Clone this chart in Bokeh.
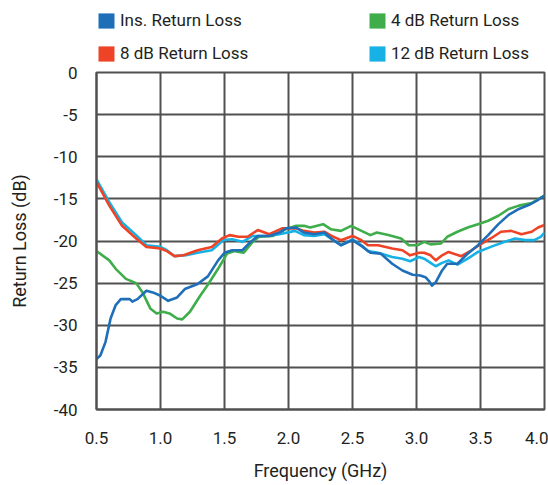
from bokeh.plotting import figure
from bokeh.layouts import column
from bokeh.models import Range1d, FixedTicker, PrintfTickFormatter, Legend, LegendItem
from bokeh.embed import file_html
from bokeh.resources import INLINE

# ---- data ----
ins_f = [0.50,0.53,0.57,0.61,0.65,0.69,0.76,0.78,0.82,0.89,0.94,1.00,1.06,1.13,1.19,1.29,1.37,1.45,1.50,1.56,
         1.64,1.69,1.76,1.85,1.93,1.98,2.06,2.12,2.20,2.28,2.35,2.41,2.50,2.58,2.64,2.72,2.81,2.89,2.97,3.03,
         3.07,3.10,3.12,3.15,3.20,3.24,3.32,3.40,3.48,3.56,3.64,3.72,3.80,3.88,3.94,4.00]
ins_db = [-34.0,-33.6,-32.0,-29.2,-27.6,-26.9,-26.9,-27.2,-26.9,-25.9,-26.1,-26.5,-27.1,-26.7,-25.7,-25.1,-24.2,-22.3,-21.4,-21.1,
          -21.1,-20.3,-19.4,-19.4,-19.0,-18.5,-18.4,-19.0,-19.2,-19.0,-19.9,-20.5,-19.9,-20.7,-21.4,-21.5,-22.7,-23.5,-24.0,-24.1,
          -24.3,-24.8,-25.3,-24.9,-23.5,-22.7,-22.7,-21.5,-20.5,-19.3,-18.0,-16.9,-16.2,-15.7,-15.2,-14.6]

rl4_f = [0.50,0.60,0.65,0.73,0.81,0.86,0.92,0.97,1.02,1.07,1.13,1.17,1.23,1.31,1.37,1.45,1.52,1.58,1.65,1.72,
         1.77,1.88,1.98,2.06,2.12,2.17,2.27,2.33,2.41,2.49,2.57,2.64,2.69,2.78,2.88,2.94,3.01,3.06,3.11,3.19,
         3.24,3.32,3.40,3.48,3.56,3.64,3.72,3.80,3.90,4.00]
rl4_db = [-21.2,-22.3,-23.3,-24.5,-25.0,-26.1,-28.0,-28.6,-28.4,-28.6,-29.2,-29.3,-28.4,-26.5,-25.2,-23.3,-21.5,-21.2,-21.4,-20.1,
          -19.5,-19.4,-18.6,-18.2,-18.2,-18.4,-18.0,-18.6,-18.8,-18.2,-18.8,-19.3,-19.0,-19.3,-19.7,-20.5,-20.5,-20.1,-20.4,-20.3,
          -19.5,-18.9,-18.4,-18.0,-17.6,-17.0,-16.2,-15.8,-15.5,-14.6]

rl8_f = [0.50,0.60,0.70,0.81,0.89,1.00,1.05,1.11,1.18,1.29,1.40,1.48,1.54,1.61,1.68,1.76,1.85,1.95,2.06,2.12,
         2.20,2.28,2.35,2.41,2.50,2.57,2.62,2.70,2.81,2.89,2.95,3.02,3.06,3.11,3.15,3.20,3.25,3.35,3.43,3.51,
         3.58,3.66,3.74,3.82,3.90,3.95,4.00]
rl8_db = [-13.0,-15.8,-18.2,-19.7,-20.7,-20.9,-21.2,-21.8,-21.7,-21.1,-20.7,-19.7,-19.3,-19.5,-19.5,-18.7,-19.2,-18.5,-18.5,-18.8,
          -19.0,-18.9,-19.5,-19.9,-19.4,-19.9,-20.5,-20.5,-20.9,-21.1,-21.7,-21.4,-21.4,-21.7,-22.3,-21.7,-21.3,-21.8,-21.1,-20.3,
          -19.7,-18.9,-18.8,-19.2,-18.9,-18.4,-18.1]

rl12_f = [0.50,0.60,0.70,0.81,0.89,1.00,1.05,1.11,1.20,1.29,1.40,1.49,1.56,1.64,1.72,1.82,1.93,2.05,2.12,2.20,
          2.28,2.35,2.41,2.50,2.57,2.62,2.70,2.81,2.89,2.95,3.02,3.06,3.11,3.15,3.20,3.25,3.32,3.40,3.48,3.58,
          3.69,3.77,3.85,3.92,3.97,4.00]
rl12_db = [-12.7,-15.4,-17.8,-19.3,-20.5,-20.7,-21.1,-21.8,-21.7,-21.4,-21.1,-19.9,-19.8,-20.1,-19.4,-19.4,-19.2,-18.8,-19.3,-19.4,
           -19.2,-19.9,-20.5,-19.8,-20.5,-21.2,-21.4,-21.9,-22.1,-22.4,-21.9,-22.1,-22.6,-23.0,-22.6,-22.3,-22.8,-22.1,-21.3,-20.7,
           -20.1,-19.7,-19.9,-19.9,-19.5,-19.0]

series_names = ["Ins. Return Loss", "8 dB Return Loss", "4 dB Return Loss", "12 dB Return Loss"]
x_ticks = [0.5, 1.0, 1.5, 2.0, 2.5, 3.0, 3.5, 4.0]
y_ticks = [0, -5, -10, -15, -20, -25, -30, -35, -40]

# ---- style ----
FONT = "Roboto"
TXT = "#231f20"
GRID = "#505050"
colors = {"ins": "#1f6fb8", "rl4": "#3fae4a", "rl8": "#ee4326", "rl12": "#18b1e6"}
W = 548

# ---- main chart ----
p = figure(width=W, height=421, x_range=Range1d(0.5, 4.0), y_range=Range1d(-40, 0),
           output_backend="svg", toolbar_location=None,
           min_border_left=96, min_border_right=4, min_border_top=8, min_border_bottom=76)
p.background_fill_color = "white"
p.border_fill_color = "white"
p.outline_line_color = GRID
p.outline_line_width = 2

for ax in (p.xaxis[0], p.yaxis[0]):
    ax.axis_line_color = GRID
    ax.axis_line_width = 2
    ax.major_tick_line_color = None
    ax.minor_tick_line_color = None
    ax.major_label_text_font = FONT
    ax.major_label_text_font_size = "17px"
    ax.major_label_text_color = TXT
    ax.axis_label_text_font = FONT
    ax.axis_label_text_font_size = "18px"
    ax.axis_label_text_font_style = "normal"
    ax.axis_label_text_color = TXT

p.xaxis.ticker = FixedTicker(ticks=x_ticks)
p.xaxis.formatter = PrintfTickFormatter(format="%.1f")
p.yaxis.ticker = FixedTicker(ticks=y_ticks)
p.yaxis.formatter = PrintfTickFormatter(format="%d")
p.xaxis.major_label_standoff = 16
p.yaxis.major_label_standoff = 13
p.xaxis.axis_label = "Frequency (GHz)"
p.yaxis.axis_label = "Return Loss (dB)"
p.xaxis.axis_label_standoff = 13
p.yaxis.axis_label_standoff = 21

p.xgrid.ticker = FixedTicker(ticks=x_ticks)
p.ygrid.ticker = FixedTicker(ticks=y_ticks)
for g in (p.xgrid[0], p.ygrid[0]):
    g.grid_line_color = GRID
    g.grid_line_width = 2
    g.grid_line_alpha = 1.0

data = [("rl4", rl4_f, rl4_db), ("rl12", rl12_f, rl12_db), ("rl8", rl8_f, rl8_db), ("ins", ins_f, ins_db)]
for key, f, d in data:
    p.line(f, d, line_color=colors[key], line_width=2.6, line_join="round")

# ---- legend strip ----
lf = figure(width=W, height=64, x_range=Range1d(0, 1), y_range=Range1d(0, 1),
            output_backend="svg", toolbar_location=None,
            x_axis_location=None, y_axis_location=None,
            min_border_left=0, min_border_right=0, min_border_top=0, min_border_bottom=0)
lf.outline_line_color = None
lf.xgrid.visible = False
lf.ygrid.visible = False
lf.border_fill_color = "white"

nan = float("nan")
proxies = {}
for key in ("ins", "rl8", "rl4", "rl12"):
    proxies[key] = lf.quad(left=[nan], right=[nan], top=[nan], bottom=[nan],
                           fill_color=colors[key], line_color=None)

items = [LegendItem(label=series_names[0], renderers=[proxies["ins"]]),
         LegendItem(label=series_names[1], renderers=[proxies["rl8"]]),
         LegendItem(label=series_names[2], renderers=[proxies["rl4"]]),
         LegendItem(label=series_names[3], renderers=[proxies["rl12"]])]
leg = Legend(items=items, orientation="vertical", nrows=2, location=(0, 1),
             glyph_width=20, glyph_height=19, label_standoff=4, label_width=234,
             label_height=20, spacing=13, padding=0, margin=0,
             label_text_font=FONT, label_text_font_size="17px", label_text_color=TXT,
             border_line_color=None, background_fill_alpha=0)
lf.add_layout(leg, "center")

layout = column(lf, p, spacing=0)
open("out.html", "w").write(file_html(layout, INLINE))
